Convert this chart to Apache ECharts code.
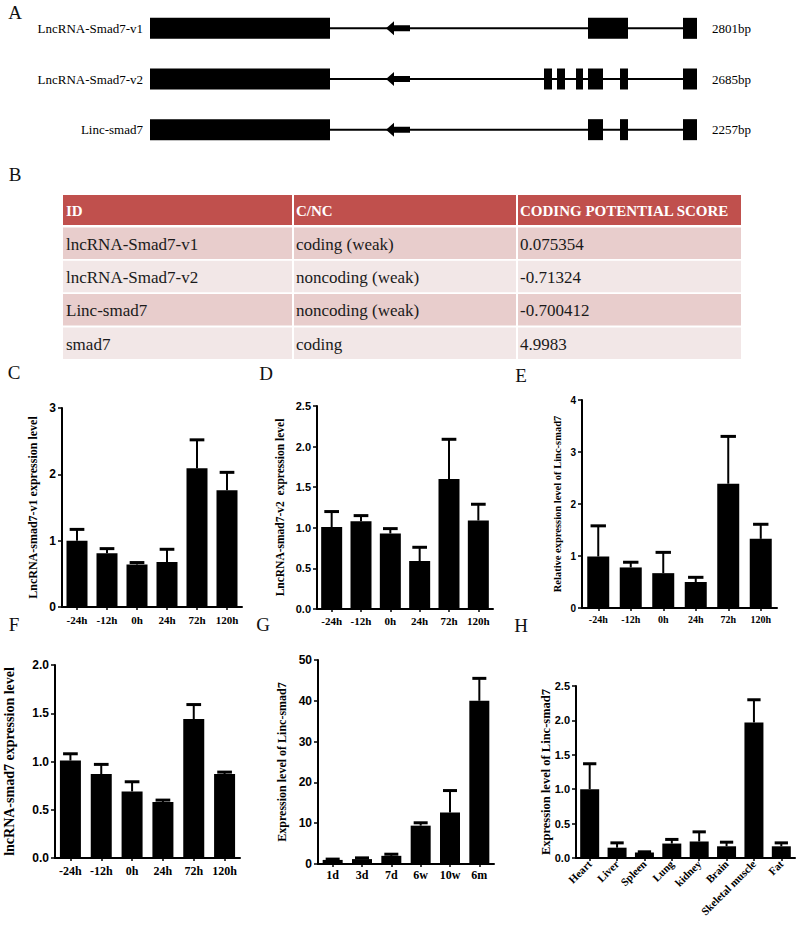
<!DOCTYPE html>
<html><head><meta charset="utf-8">
<script src="https://cdn.jsdelivr.net/npm/echarts@6/dist/echarts.min.js"></script>
<style>html,body{margin:0;padding:0;background:#fff}#c{width:800px;height:925px}</style>
</head><body><div id="c"></div>
<script>
// ---------- Panel A: transcript structures (relative position units) ----------
const geneNames = ['LncRNA-Smad7-v1', 'LncRNA-Smad7-v2', 'Linc-smad7'];
const geneLengths = ['2801bp', '2685bp', '2257bp'];
const exonsV1 = [[0, 180], [438, 478], [533, 547]];
const exonsV2 = [[0, 180], [394, 402], [407, 415], [426, 433], [438, 453], [470, 478], [533, 547]];
const exonsLinc = [[0, 180], [438, 453], [470, 478], [533, 547]];
const arrowSpan = [236, 260];

// ---------- Panel B: coding potential table ----------
const tableHeader = ['ID', 'C/NC', 'CODING POTENTIAL SCORE'];
const tableIds = ['lncRNA-Smad7-v1', 'lncRNA-Smad7-v2', 'Linc-smad7', 'smad7'];
const tableClass = ['coding (weak)', 'noncoding (weak)', 'noncoding (weak)', 'coding'];
const tableScores = ['0.075354', '-0.71324', '-0.700412', '4.9983'];

// ---------- Panels C-H: bar charts ----------
const timeCats = ['-24h', '-12h', '0h', '24h', '72h', '120h'];
const cValues = [1.00, 0.81, 0.64, 0.68, 2.09, 1.76];
const cErr    = [0.17, 0.07, 0.03, 0.19, 0.43, 0.27];
const dValues = [1.01, 1.08, 0.93, 0.59, 1.60, 1.09];
const dErr    = [0.19, 0.07, 0.06, 0.17, 0.49, 0.20];
const eValues = [0.99, 0.78, 0.67, 0.50, 2.39, 1.33];
const eErr    = [0.59, 0.10, 0.40, 0.09, 0.91, 0.28];
const fValues = [1.01, 0.87, 0.69, 0.58, 1.44, 0.87];
const fErr    = [0.07, 0.10, 0.10, 0.02, 0.15, 0.02];
const ageCats = ['1d', '3d', '7d', '6w', '10w', '6m'];
const gValues = [1.0, 1.2, 2.0, 9.4, 12.6, 40.0];
const gErr    = [0.2, 0.3, 0.4, 0.7, 5.4, 5.5];
const tissueCats = ['Heart', 'Liver', 'Spleen', 'Lung', 'kidney', 'Brain', 'Skeletal muscle', 'Fat'];
const hValues = [1.00, 0.15, 0.08, 0.21, 0.24, 0.17, 1.97, 0.17];
const hErr    = [0.37, 0.07, 0.01, 0.06, 0.14, 0.06, 0.33, 0.05];

const SERIF = "'Liberation Serif', 'Times New Roman', Times, serif";
const SANS = "'Liberation Sans', Arial, Helvetica, sans-serif";

const panels = [
  {cats: timeCats, vals: cValues, errs: cErr, title: 'LncRNA-smad7-v1 expression level', left: 62, top: 408, width: 180, height: 199, max: 3, interval: 1, dec: 0, barW: 21, titleFs: 12, nameGap: 23, tickFs: 12, catFs: 11, catMargin: 7, rotate: 0},
  {cats: timeCats, vals: dValues, errs: dErr, title: 'LncRNA-smad7-v2  expression level', left: 317, top: 406, width: 176, height: 203, max: 2.5, interval: 0.5, dec: 1, barW: 21, titleFs: 11.5, nameGap: 31, tickFs: 11, catFs: 11, catMargin: 6, rotate: 0},
  {cats: timeCats, vals: eValues, errs: eErr, title: 'Relative expression level of Linc-smad7', left: 582, top: 400, width: 195, height: 208, max: 4, interval: 1, dec: 0, barW: 22, titleFs: 10.5, nameGap: 19, tickFs: 10, catFs: 10, catMargin: 6, rotate: 0},
  {cats: timeCats, vals: fValues, errs: fErr, title: 'lncRNA-smad7 expression level', left: 55, top: 665, width: 185, height: 193, max: 2, interval: 0.5, dec: 1, barW: 21, titleFs: 14, nameGap: 39, tickFs: 12, catFs: 12, catMargin: 7, rotate: 0},
  {cats: ageCats, vals: gValues, errs: gErr, title: 'Expression level of Linc-smad7', left: 318, top: 660, width: 176, height: 204, max: 50, interval: 10, dec: 0, barW: 20, titleFs: 12, nameGap: 30, tickFs: 12, catFs: 12, catMargin: 5, rotate: 0},
  {cats: tissueCats, vals: hValues, errs: hErr, title: 'Expression level of Linc-smad7', left: 576, top: 686, width: 219, height: 172, max: 2.5, interval: 0.5, dec: 1, barW: 19, titleFs: 12.5, nameGap: 24, tickFs: 11, catFs: 11, catMargin: 4, rotate: 45}
];

const grids = [{left: 150, top: 3, width: 547, height: 152, containLabel: false, outerBoundsMode: 'none'}];
const xAxes = [{type: 'value', gridIndex: 0, min: 0, max: 547, show: false}];
const yAxes = [
  {type: 'category', gridIndex: 0, data: geneNames, inverse: true, position: 'left',
   axisLine: {show: false}, axisTick: {show: false}, splitLine: {show: false},
   axisLabel: {fontFamily: SERIF, fontSize: 13, color: '#000', margin: 7}},
  {type: 'category', gridIndex: 0, data: geneLengths, inverse: true, position: 'right',
   axisLine: {show: false}, axisTick: {show: false}, splitLine: {show: false},
   axisLabel: {fontFamily: SERIF, fontSize: 13, color: '#000', margin: 15}}
];

const geneExons = [exonsV1, exonsV2, exonsLinc];
const exonData = [];
geneExons.forEach((ex, r) => ex.forEach(e => exonData.push([r, e[0], e[1]])));
const intronData = geneExons.map((ex, r) => [r, ex[0][1], ex[ex.length - 1][0]]);
const arrowData = geneNames.map((n, r) => [r, arrowSpan[0], arrowSpan[1]]);

const series = [
  {type: 'custom', xAxisIndex: 0, yAxisIndex: 0, data: intronData, encode: {x: [1, 2], y: 0}, silent: true,
   renderItem: (p, api) => {
     const a = api.coord([api.value(1), api.value(0)]), b = api.coord([api.value(2), api.value(0)]);
     return {type: 'line', shape: {x1: a[0], y1: a[1], x2: b[0], y2: b[1]}, style: {stroke: '#000', lineWidth: 2}};
   }},
  {type: 'custom', xAxisIndex: 0, yAxisIndex: 0, data: exonData, encode: {x: [1, 2], y: 0}, silent: true, z: 3,
   renderItem: (p, api) => {
     const a = api.coord([api.value(1), api.value(0)]), b = api.coord([api.value(2), api.value(0)]);
     const h = 21;
     return {type: 'rect', shape: {x: a[0], y: a[1] - h / 2, width: b[0] - a[0], height: h}, style: {fill: '#000'}};
   }},
  {type: 'custom', xAxisIndex: 0, yAxisIndex: 0, data: arrowData, encode: {x: [1, 2], y: 0}, silent: true, z: 4,
   renderItem: (p, api) => {
     const a = api.coord([api.value(1), api.value(0)]), b = api.coord([api.value(2), api.value(0)]);
     const y = a[1], hx = a[0] + 8;
     return {type: 'polygon', shape: {points: [[a[0], y], [hx, y - 7], [hx, y - 3], [b[0], y - 3], [b[0], y + 3], [hx, y + 3], [hx, y + 7]]}, style: {fill: '#000'}};
   }}
];

panels.forEach((pn, i) => {
  const gi = i + 1;
  grids.push({left: pn.left, top: pn.top, width: pn.width, height: pn.height, containLabel: false, outerBoundsMode: 'none'});
  xAxes.push({type: 'category', gridIndex: gi, data: pn.cats,
    axisLine: {show: true, lineStyle: {color: '#000', width: 2}},
    axisTick: {show: true, alignWithLabel: true, length: 3, lineStyle: {color: '#000', width: 1.5}},
    axisLabel: {interval: 0, fontFamily: SERIF, fontWeight: 'bold', fontSize: pn.catFs, color: '#000', margin: pn.catMargin, rotate: pn.rotate},
    splitLine: {show: false}});
  yAxes.push({type: 'value', gridIndex: gi, min: 0, max: pn.max, interval: pn.interval,
    axisLine: {show: true, lineStyle: {color: '#000', width: 2}},
    axisTick: {show: true, length: 4, lineStyle: {color: '#000', width: 1.5}},
    splitLine: {show: false},
    axisLabel: {fontFamily: SANS, fontWeight: 'bold', fontSize: pn.tickFs, color: '#000', margin: 6,
      formatter: v => Number(v).toFixed(pn.dec)},
    name: pn.title, nameLocation: 'middle', nameGap: pn.nameGap, nameRotate: 90, nameMoveOverlap: false,
    nameTextStyle: {fontFamily: SERIF, fontWeight: 'bold', fontSize: pn.titleFs, color: '#000'}});
  const yi = yAxes.length - 1;
  series.push({type: 'bar', xAxisIndex: gi, yAxisIndex: yi, data: pn.vals, barWidth: pn.barW,
    itemStyle: {color: '#000'}, silent: true});
  const capHalf = pn.barW * 0.35;
  series.push({type: 'custom', xAxisIndex: gi, yAxisIndex: yi, silent: true, z: 5,
    data: pn.vals.map((v, k) => [k, v, pn.errs[k]]), encode: {x: 0, y: 1},
    renderItem: (p, api) => {
      const k = api.value(0), v = api.value(1), e = api.value(2);
      const p0 = api.coord([k, v]), p1 = api.coord([k, v + e]);
      return {type: 'group', children: [
        {type: 'line', shape: {x1: p0[0], y1: p0[1], x2: p1[0], y2: p1[1]}, style: {stroke: '#000', lineWidth: 2}},
        {type: 'line', shape: {x1: p1[0] - capHalf, y1: p1[1], x2: p1[0] + capHalf, y2: p1[1]}, style: {stroke: '#000', lineWidth: 3}}
      ]};
    }});
});

// ---------- graphic: panel letters + table ----------
const letters = ['A', 'B', 'C', 'D', 'E', 'F', 'G', 'H'];
const letterPos = [[15, 12], [15, 174], [14, 372], [266, 373], [521, 375], [14, 624], [263, 624], [521, 625]];
const graphic = [];
letters.forEach((l, i) => graphic.push({type: 'text', x: letterPos[i][0], y: letterPos[i][1], silent: true,
  style: {text: l, fontFamily: SERIF, fontSize: 19, fill: '#111', align: 'center', verticalAlign: 'middle'}}));

const colX = [63, 293, 517], tblRight = 741;
const headTop = 195, headH = 30, rowTop0 = 227.5, rowH = 31.5, rowStep = 33.3;
graphic.push({type: 'rect', shape: {x: colX[0], y: headTop, width: tblRight - colX[0], height: headH}, style: {fill: '#C0504D'}, silent: true});
tableHeader.forEach((t, c) => graphic.push({type: 'text', x: colX[c] + 3, y: headTop + headH / 2 + 1, silent: true,
  style: {text: t, fontFamily: SERIF, fontWeight: 'bold', fontSize: 15, fill: '#fff', align: 'left', verticalAlign: 'middle'}}));
const rowColors = ['#E8CDCC', '#F2E7E7'];
tableIds.forEach((id, r) => {
  const y = rowTop0 + r * rowStep;
  graphic.push({type: 'rect', shape: {x: colX[0], y: y, width: tblRight - colX[0], height: rowH}, style: {fill: rowColors[r % 2]}, silent: true});
  [id, tableClass[r], tableScores[r]].forEach((t, c) => graphic.push({type: 'text', x: colX[c] + 3, y: y + rowH / 2 + 1, silent: true,
    style: {text: t, fontFamily: SERIF, fontSize: 17, fill: '#1a1a1a', align: 'left', verticalAlign: 'middle'}}));
});
[colX[1], colX[2]].forEach(x => graphic.push({type: 'line', shape: {x1: x, y1: headTop, x2: x, y2: rowTop0 + 3 * rowStep + rowH}, style: {stroke: '#fff', lineWidth: 2}, silent: true, z: 10}));

const chart = echarts.init(document.getElementById('c'), null, {renderer: 'svg', width: 800, height: 925});
chart.setOption({
  animation: false,
  backgroundColor: '#fff',
  textStyle: {fontFamily: SERIF},
  grid: grids, xAxis: xAxes, yAxis: yAxes, series: series, graphic: graphic
});
</script></body></html>
